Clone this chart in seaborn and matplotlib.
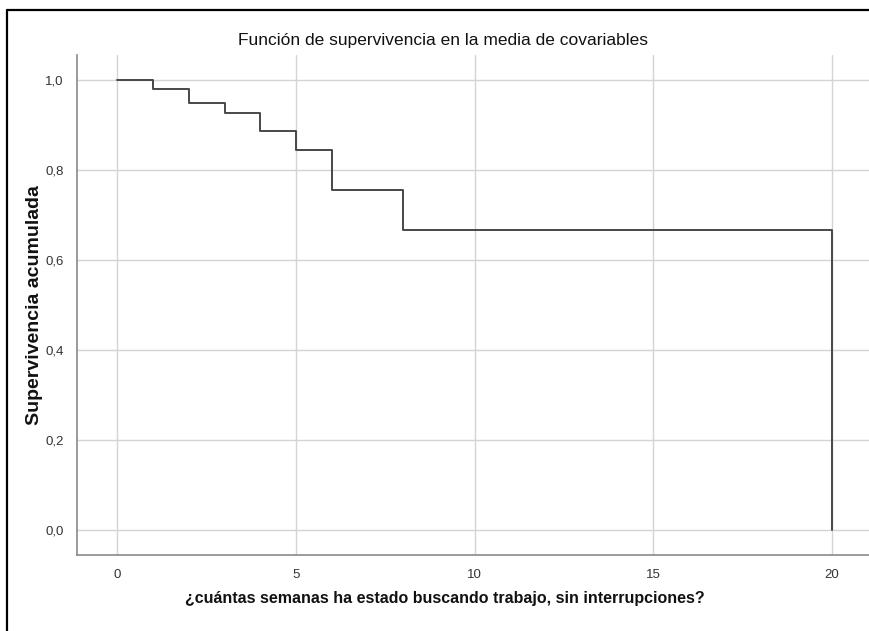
import matplotlib
matplotlib.use("Agg")
import matplotlib.pyplot as plt
import seaborn as sns
import pandas as pd
from matplotlib.lines import Line2D

# ============================================================
# Datos
# ============================================================
semanas = [0, 1, 2, 3, 4, 5, 6, 8, 20]
supervivencia = [1.0, 0.981, 0.948, 0.926, 0.887, 0.845, 0.756, 0.666, 0.0]

x_ticks = [0, 5, 10, 15, 20]
y_ticks = [0.0, 0.2, 0.4, 0.6, 0.8, 1.0]
y_tick_labels = ["0,0", "0,2", "0,4", "0,6", "0,8", "1,0"]

titulo = "Función de supervivencia en la media de covariables"
x_titulo = "¿cuántas semanas ha estado buscando trabajo, sin interrupciones?"
y_titulo = "Supervivencia acumulada"

FUENTE = ["Liberation Sans", "DejaVu Sans"]

sns.set_style("white")
plt.rcParams["font.family"] = FUENTE

df = pd.DataFrame({"semanas": semanas, "supervivencia": supervivencia})

fig = plt.figure(figsize=(8.7, 6.31), dpi=100)
ax = fig.add_axes([77.5 / 870, 1 - 555 / 631, 1 - 77.5 / 870, 500 / 631])

sns.lineplot(data=df, x="semanas", y="supervivencia", estimator=None,
             drawstyle="steps-post", color="#474747", linewidth=1.4, ax=ax)

ax.set_xlim(-1.12, 21.07)
ax.set_ylim(-0.0556, 1.0556)
ax.set_xticks(x_ticks)
ax.set_xticklabels([str(t) for t in x_ticks])
ax.set_yticks(y_ticks)
ax.set_yticklabels(y_tick_labels)
ax.tick_params(length=0, labelsize=9.5, colors="#333333", pad=10)

ax.grid(True, color="#d4d4d4", linewidth=1)
ax.set_axisbelow(True)
for side in ["top", "right"]:
    ax.spines[side].set_visible(False)
for side in ["left", "bottom"]:
    ax.spines[side].set_color("#8a8a8a")
    ax.spines[side].set_linewidth(1.2)

ax.set_xlabel("")
ax.set_ylabel("")

fig.text(443 / 870, 1 - 40 / 631, titulo, ha="center", va="center",
         fontsize=12.5, color="#111111")
fig.text(445 / 870, 1 - 598 / 631, x_titulo, ha="center", va="center",
         fontsize=11.5, fontweight="bold", color="#111111")
fig.text(35 / 870, 1 - 305 / 631, y_titulo, ha="center", va="center",
         rotation=90, fontsize=14, fontweight="bold", color="#111111")

# marco exterior (sólo arriba e izquierda visibles en la captura)
fig.add_artist(Line2D([7 / 870, 1.0], [1 - 10 / 631, 1 - 10 / 631],
                      transform=fig.transFigure, color="black", linewidth=1.6))
fig.add_artist(Line2D([7 / 870, 7 / 870], [0.0, 1 - 10 / 631],
                      transform=fig.transFigure, color="black", linewidth=1.6))

fig.savefig("out.png", dpi=100)
